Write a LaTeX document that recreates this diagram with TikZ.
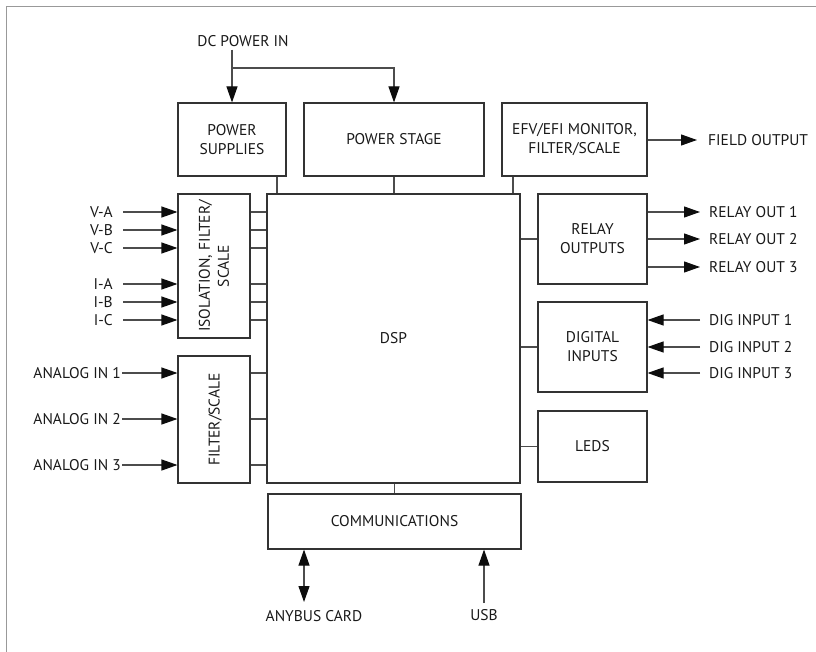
\documentclass[tikz,border=0pt]{standalone}
\usepackage{fontspec}
\setmainfont{PT Sans}
\usetikzlibrary{arrows.meta}
\begin{document}
\begin{tikzpicture}[x=1pt,y=-1pt,
  box/.style={draw=black!80,line width=1.1pt,inner sep=0pt,align=center,font=\fontsize{15.5}{19}\selectfont,text=black!90},
  lbl/.style={inner sep=0pt,text height=11pt,text depth=0pt,font=\fontsize{15.5}{19}\selectfont,text=black!90},
  wire/.style={draw=black!70,line width=1.1pt},
  arr/.style={wire,-{Triangle[length=16pt,width=11pt,color=black!95]}},
  arrb/.style={wire,{Triangle[length=16pt,width=11pt,color=black!95]}-{Triangle[length=16pt,width=11pt,color=black!95]}}]
\useasboundingbox (0,0) rectangle (816,652);
\draw[black!40,line width=1.5pt] (6.5,652) -- (6.5,6.5) -- (816,6.5);

% boxes
\node[box,minimum width=108pt,minimum height=73pt] (ps) at (232,139.5) {POWER\\SUPPLIES};
\node[box,minimum width=180pt,minimum height=73pt] (pst) at (394,139.5) {POWER STAGE};
\node[box,minimum width=145pt,minimum height=73pt] (efv) at (574.5,139.5) {EFV/EFI MONITOR,\\FILTER/SCALE};
\node[box,minimum width=72pt,minimum height=144pt] (iso) at (214,266) {};
\node[lbl,align=center,rotate=90,text height=,text depth=] at (iso.center) {\fontsize{15.5}{19}\selectfont ISOLATION, FILTER/\\SCALE};
\node[box,minimum width=72pt,minimum height=127pt] (flt) at (214,419.5) {};
\node[lbl,rotate=90] at (flt.center) {FILTER/SCALE};
\node[box,minimum width=253pt,minimum height=289pt] (dsp) at (393.5,338.5) {DSP};
\node[box,minimum width=109pt,minimum height=90pt] (relay) at (592.5,239) {RELAY\\OUTPUTS};
\node[box,minimum width=109pt,minimum height=90pt] (dig) at (592.5,347) {DIGITAL\\INPUTS};
\node[box,minimum width=109pt,minimum height=71pt] (leds) at (592.5,446.5) {LEDS};
\node[box,minimum width=253pt,minimum height=55pt] (comm) at (394.5,521.5) {COMMUNICATIONS};

% DC power
\node[lbl] (dcin) at (243,41) {DC POWER IN};
\coordinate (br) at (232,68);
\draw[arr] (dcin.south -| ps.north) ++(0,3) -- (ps.north);
\draw[arr] (br) -| (pst.north);

% to DSP from top boxes
\draw[wire] ([xshift=45pt]ps.south) -- ([xshift=45pt]ps.south |- dsp.north);
\draw[wire] (pst.south) -- (pst.south |- dsp.north);
\draw[wire] ([xshift=-61.5pt]efv.south) -- ([xshift=-61.5pt]efv.south |- dsp.north);

% field output
\node[lbl,anchor=west] (fo) at (708,140) {FIELD OUTPUT};
\draw[arr] (efv.east |- fo.west) -- ([xshift=-11pt]fo.west);

% isolation inputs
\foreach \n/\t/\y in {va/V-A/212,vb/V-B/230,vc/V-C/248,ia/I-A/284,ib/I-B/302,ic/I-C/320}{
  \node[lbl,anchor=east] (\n) at (113,\y) {\t};
  \draw[arr] ([xshift=10pt]\n.east) -- (iso.west |- \n.east);
  \draw[wire] (iso.east |- \n.east) -- (dsp.west |- \n.east);
}

% analog inputs
\foreach \n/\t/\y in {an1/ANALOG IN 1/373,an2/ANALOG IN 2/419,an3/ANALOG IN 3/465}{
  \node[lbl,anchor=east] (\n) at (121,\y) {\t};
  \draw[arr] ([xshift=1pt]\n.east) -- (flt.west |- \n.east);
  \draw[wire] (flt.east |- \n.east) -- (dsp.west |- \n.east);
}

% right side
\draw[wire] (relay.west) -- (relay.west -| dsp.east);
\draw[wire] (dig.west) -- (dig.west -| dsp.east);
\draw[wire] (leds.west) -- (leds.west -| dsp.east);

\foreach \n/\t/\y in {ro1/RELAY OUT 1/212,ro2/RELAY OUT 2/239,ro3/RELAY OUT 3/267}{
  \node[lbl,anchor=west] (\n) at (709,\y) {\t};
  \draw[arr] (relay.east |- \n.west) -- ([xshift=-9pt]\n.west);
}
\foreach \n/\t/\y in {di1/DIG INPUT 1/320,di2/DIG INPUT 2/347,di3/DIG INPUT 3/373}{
  \node[lbl,anchor=west] (\n) at (709,\y) {\t};
  \draw[arr] ([xshift=-9pt]\n.west) -- (dig.east |- \n.west);
}

% comms
\draw[wire] (comm.north |- dsp.south) -- (comm.north);
\node[lbl] (any) at (314,616) {ANYBUS CARD};
\node[lbl] (usb) at (484,615) {USB};
\coordinate (anyt) at (304,602);
\coordinate (usbt) at (484,603);
\draw[arrb] (anyt) -- (anyt |- comm.south);
\draw[arr] (usbt) -- (usbt |- comm.south);
\end{tikzpicture}
\end{document}
